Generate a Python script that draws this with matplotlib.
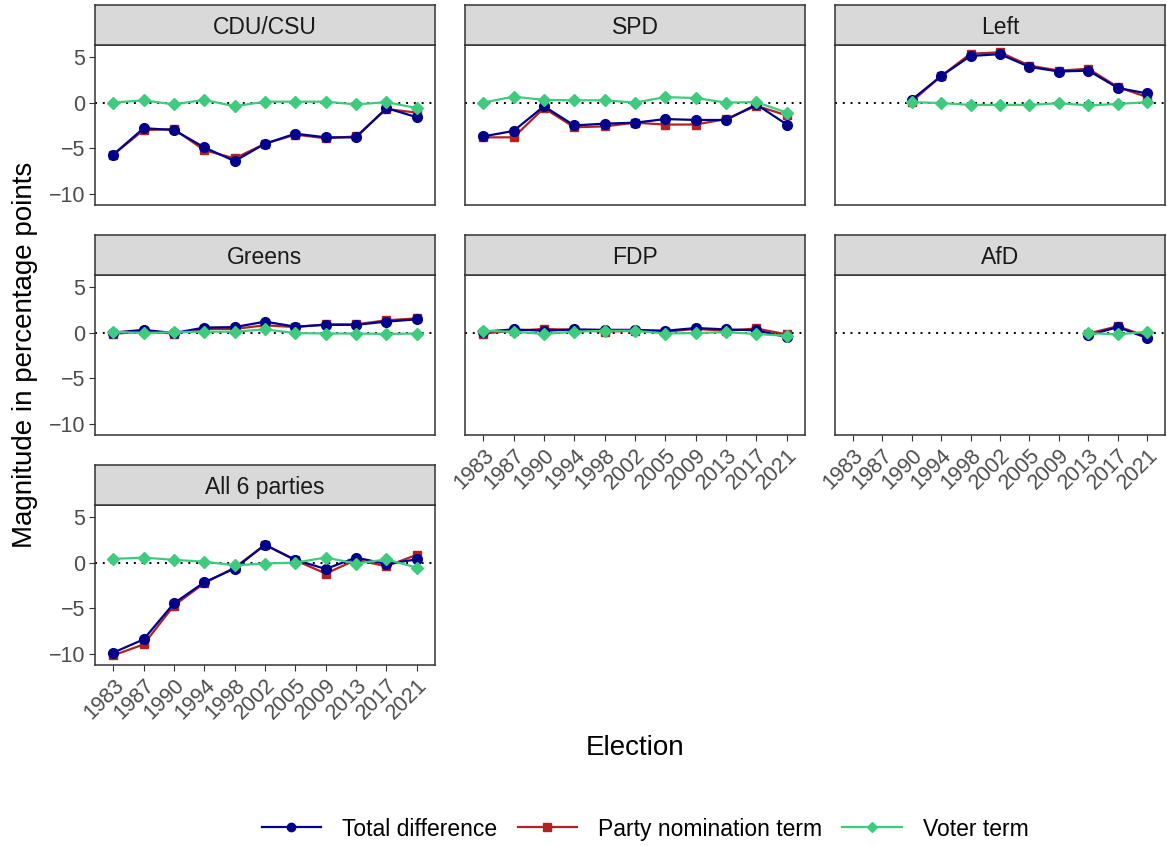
import numpy as np
import matplotlib; matplotlib.use("Agg")
import matplotlib.pyplot as plt
from matplotlib.lines import Line2D

plt.rcParams['font.family'] = ['Liberation Sans', 'DejaVu Sans']

years = ['1983', '1987', '1990', '1994', '1998', '2002', '2005', '2009', '2013', '2017', '2021']
nan = np.nan

cdu_total = [-5.7, -2.8, -3.0, -4.9, -6.4, -4.5, -3.4, -3.8, -3.8, -0.6, -1.6]
cdu_party = [-5.7, -3.0, -2.9, -5.2, -6.1, -4.5, -3.5, -3.9, -3.7, -0.7, -1.1]
cdu_voter = [0.0, 0.25, -0.2, 0.3, -0.4, 0.1, 0.1, 0.1, -0.2, 0.05, -0.6]

spd_total = [-3.7, -3.1, -0.4, -2.5, -2.3, -2.2, -1.8, -1.9, -1.9, -0.2, -2.4]
spd_party = [-3.8, -3.8, -0.6, -2.7, -2.6, -2.2, -2.4, -2.4, -1.8, -0.35, -1.4]
spd_voter = [0.0, 0.65, 0.3, 0.25, 0.25, 0.0, 0.6, 0.5, 0.0, 0.05, -1.1]

left_total = [nan, nan, 0.3, 2.9, 5.1, 5.3, 3.9, 3.4, 3.5, 1.6, 1.0]
left_party = [nan, nan, 0.1, 2.9, 5.35, 5.5, 4.05, 3.5, 3.7, 1.7, 0.6]
left_voter = [nan, nan, 0.05, -0.05, -0.25, -0.25, -0.25, -0.07, -0.3, -0.15, 0.05]

grn_total = [0.0, 0.3, -0.05, 0.55, 0.6, 1.2, 0.65, 0.85, 0.85, 1.2, 1.45]
grn_party = [-0.15, 0.15, -0.1, 0.4, 0.4, 0.8, 0.6, 0.9, 0.9, 1.35, 1.55]
grn_voter = [0.1, -0.05, 0.05, 0.1, 0.1, 0.35, -0.05, -0.1, -0.1, -0.15, -0.1]

fdp_total = [0.1, 0.35, 0.2, 0.35, 0.3, 0.3, 0.2, 0.5, 0.35, 0.25, -0.5]
fdp_party = [-0.1, 0.2, 0.4, 0.3, 0.1, 0.2, 0.1, 0.4, 0.2, 0.45, -0.2]
fdp_voter = [0.2, 0.1, -0.15, 0.1, 0.2, 0.2, -0.1, -0.05, 0.05, -0.15, -0.35]

afd_total = [nan] * 8 + [-0.3, 0.6, -0.6]
afd_party = [nan] * 8 + [-0.1, 0.7, -0.45]
afd_voter = [nan] * 8 + [-0.05, -0.2, 0.1]

all_total = [-9.85, -8.4, -4.45, -2.15, -0.65, 1.95, 0.3, -0.7, 0.55, -0.15, 0.35]
all_party = [-10.15, -8.95, -4.7, -2.25, -0.55, 1.95, 0.25, -1.2, 0.3, -0.4, 0.85]
all_voter = [0.4, 0.55, 0.3, 0.1, -0.3, -0.1, 0.0, 0.55, -0.1, 0.35, -0.55]

W, H = 1167, 846
fig = plt.figure(figsize=(W / 100, H / 100), dpi=100)

def rect(x0, y0, x1, y1):
    return [x0 / W, 1 - y1 / H, (x1 - x0) / W, (y1 - y0) / H]

cols = [(95, 435), (465, 805), (835, 1165)]
rows = [(5, 45, 205), (235, 275, 435), (465, 505, 665)]
panels = [
    ('CDU/CSU', 0, 0, cdu_total, cdu_party, cdu_voter),
    ('SPD', 0, 1, spd_total, spd_party, spd_voter),
    ('Left', 0, 2, left_total, left_party, left_voter),
    ('Greens', 1, 0, grn_total, grn_party, grn_voter),
    ('FDP', 1, 1, fdp_total, fdp_party, fdp_voter),
    ('AfD', 1, 2, afd_total, afd_party, afd_voter),
    ('All 6 parties', 2, 0, all_total, all_party, all_voter),
]
bottom = {'All 6 parties', 'FDP', 'AfD'}

c_tot, c_par, c_vot = '#00008B', '#B22222', '#3FCB7E'
x = np.arange(len(years))
for name, r, c, tot, par, vot in panels:
    x0, x1 = cols[c]
    s0, p0, p1 = rows[r]
    ax = fig.add_axes(rect(x0, p0, x1, p1))
    ax.axhline(0, color='black', ls=(0, (1, 3)), lw=1.4, zorder=1)
    ax.plot(x, par, color=c_par, marker='s', ms=6, lw=1.6, zorder=3)
    ax.plot(x, tot, color=c_tot, marker='o', ms=7, lw=1.6, zorder=4)
    ax.plot(x, vot, color=c_vot, marker='D', ms=6, lw=1.6, zorder=5)
    ax.set_xlim(-0.6, 10.6); ax.set_ylim(-11.2, 6.3)
    ax.set_yticks([-10, -5, 0, 5])
    for s in ax.spines.values():
        s.set_color('#333333'); s.set_linewidth(1.1)
    ax.tick_params(colors='#333333', labelcolor='#4D4D4D', labelsize=15.5, length=4, pad=3)
    ax.set_xticks(x)
    if name in bottom:
        ax.set_xticklabels(years, rotation=45, ha='right', rotation_mode='anchor')
    else:
        ax.tick_params(axis='x', length=0, labelbottom=False)
    if c != 0:
        ax.tick_params(axis='y', length=0, labelleft=False)
    sax = fig.add_axes(rect(x0, s0, x1, p0))
    sax.set_facecolor('#D9D9D9')
    sax.set_xticks([]); sax.set_yticks([])
    for s in sax.spines.values():
        s.set_color('#333333'); s.set_linewidth(1.1)
    sax.text(0.5, 0.45, name, ha='center', va='center', fontsize=16.5, color='#1A1A1A', transform=sax.transAxes)

fig.text(25 / W, 1 - 355 / H, 'Magnitude in percentage points', rotation=90, ha='center', va='center', fontsize=20)
fig.text(635 / W, 1 - 748 / H, 'Election', ha='center', va='center', fontsize=20)

handles = [Line2D([], [], color=c_tot, marker='o', ms=6, lw=1.6),
           Line2D([], [], color=c_par, marker='s', ms=5.5, lw=1.6),
           Line2D([], [], color=c_vot, marker='D', ms=5.5, lw=1.6)]
fig.legend(handles, ['Total difference', 'Party nomination term', 'Voter term'], loc='center',
           bbox_to_anchor=(645 / W, 1 - 829 / H), ncol=3, frameon=False, fontsize=16.5,
           handlelength=2.6, columnspacing=0.9, handletextpad=0.9)

fig.savefig('out.png', dpi=100)
